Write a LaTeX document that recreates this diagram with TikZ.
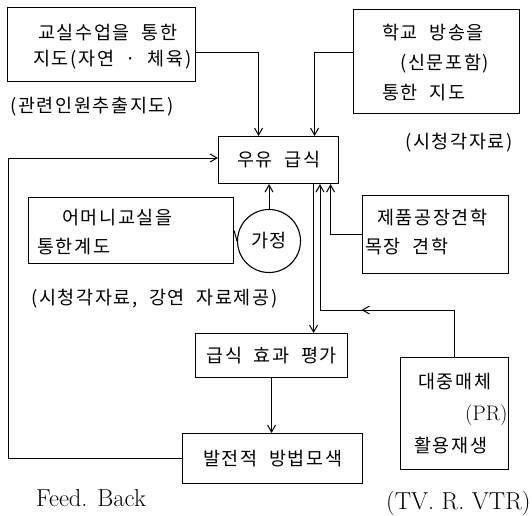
\documentclass[tikz,border=0pt]{standalone}
\usepackage{fontspec}
\newfontfamily\kr[LetterSpace=9,WordSpace=2]{Noto Sans CJK KR}
\usetikzlibrary{arrows.meta,decorations.markings}
\begin{document}
\begin{tikzpicture}[x=1pt,y=-1pt,
  box/.style={draw, line width=1.1pt, inner sep=0pt, anchor=north west},
  txt/.style={font=\kr\fontsize{18.5}{22}\selectfont, inner sep=0pt, anchor=west},
  lat/.style={font=\fontsize{24.5}{28}\selectfont, inner sep=0pt, anchor=west},
  arr/.style={line width=1pt, -{Straight Barb[length=7pt,width=8pt]}},
  ln/.style={line width=1pt}]
\useasboundingbox (0,0) rectangle (532,515);
% boxes
\node[box, minimum width=188pt, minimum height=74pt] (b1) at (7,7) {};
\node[box, minimum width=166pt, minimum height=104pt] (b2) at (353,9) {};
\node[box, minimum width=120pt, minimum height=47pt] (uyu) at (218,136) {};
\node[box, minimum width=205pt, minimum height=66pt] (mom) at (28,197) {};
\node[box, minimum width=146pt, minimum height=78pt] (je) at (362,195) {};
\node[box, minimum width=152pt, minimum height=44pt] (pg) at (195,333) {};
\node[box, minimum width=180pt, minimum height=50pt] (bal) at (182,433) {};
\node[box, minimum width=108pt, minimum height=112pt] (dj) at (400,357) {};
\node[draw, circle, line width=1.1pt, minimum size=63pt, inner sep=0pt, font=\kr\fontsize{18.5}{22}\selectfont] (ga) at (269,241) {가정};
% texts
\node[txt] (t1a) at (38,33) {교실수업을 통한};
\node[txt] (t1b) at (33,60) {지도(자연 · 체육)};
\node[txt] (t1c) at (10,107) {(관련인원추출지도)};
\node[txt] (t2a) at (382,33) {학교 방송을};
\node[txt] (t2b) at (400,64) {(신문포함)};
\node[txt] (t2c) at (382,93) {통한 지도};
\node[txt] (t2d) at (405,143) {(시청각자료)};
\node[txt, anchor=center] (tu) at (uyu.center) {우유 급식};
\node[txt] (tm1) at (62,218) {어머니교실을};
\node[txt] (tm2) at (37,247) {통한계도};
\node[txt] (tm3) at (31,299) {(시청각자료, 강연 자료제공)};
\node[txt] (tj1) at (377,218) {제품공장견학};
\node[txt] (tj2) at (365,247) {목장 견학};
\node[txt, anchor=center] (tp) at (pg.center) {급식 효과 평가};
\node[txt, anchor=center] (tb) at (bal.center) {발전적 방법모색};
\node[txt] (td1) at (418,382) {대중매체};
\node[lat, font=\fontsize{21}{24}\selectfont] (td2) at (465,415) {(PR)};
\node[txt] (td3) at (414,445) {활용재생};
\node[lat] (fb) at (36,498) {Feed. Back};
\node[lat] (tv) at (386,503) {(TV. R. VTR)};
% connectors
\draw[arr] ([yshift=-8pt]b1.east) -| ([xshift=-20pt]uyu.north);
\draw[arr] ([yshift=9pt]b2.west) -| ([xshift=36pt]uyu.north);
\coordinate (fbc) at (8,158);
\draw[arr] (bal.west) -| (fbc) -- (fbc -| uyu.west);
\draw[ln] (mom.east) -- (ga.west);
\draw[arr] (ga.north) -- (ga.north |- uyu.south);
\draw[arr] ([xshift=35pt]uyu.south) -- ([xshift=35pt]uyu.south |- pg.north);
\draw[arr] (je.west) -| ([xshift=52pt]uyu.south);
\coordinate (k) at (320,310);
\draw[arr, postaction={decorate}, decoration={markings, mark=at position 140pt with {\arrow{Straight Barb[length=7pt,width=8pt]}}}] (dj.north) |- (k) -- (k |- uyu.south);
\draw[arr] (pg.south) -- (pg.south |- bal.north);
\end{tikzpicture}
\end{document}
